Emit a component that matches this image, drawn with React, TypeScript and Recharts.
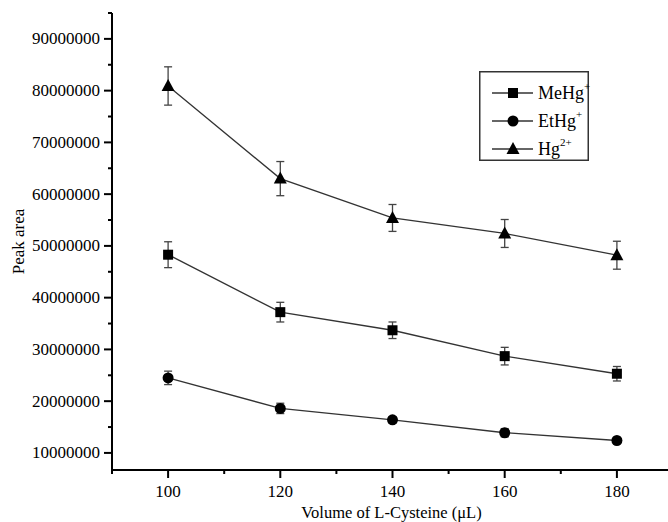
import React from "react";
import { ErrorBar, Legend, Line, LineChart, XAxis, YAxis } from "recharts";

const volumes = [100, 120, 140, 160, 180];
const meHg = [48300000, 37200000, 33700000, 28700000, 25300000];
const meHgErr = [2500000, 1900000, 1600000, 1700000, 1400000];
const etHg = [24500000, 18600000, 16400000, 13900000, 12400000];
const etHgErr = [1300000, 1000000, 600000, 800000, 500000];
const hg = [80900000, 63000000, 55400000, 52400000, 48200000];
const hgErr = [3700000, 3300000, 2600000, 2700000, 2700000];

const xTicks = [90, 100, 110, 120, 130, 140, 150, 160, 170, 180, 190];
const yTicks = [
  10000000, 15000000, 20000000, 25000000, 30000000, 35000000, 40000000, 45000000, 50000000,
  55000000, 60000000, 65000000, 70000000, 75000000, 80000000, 85000000, 90000000, 95000000,
];

const data = volumes.map((v, i) => ({
  volume: v,
  meHg: meHg[i],
  meHgErr: meHgErr[i],
  etHg: etHg[i],
  etHgErr: etHgErr[i],
  hg: hg[i],
  hgErr: hgErr[i],
}));

const FONT = "'Liberation Serif', 'Times New Roman', serif";

const YTick = ({ x, y, payload }: any) => {
  const major = payload.value % 10000000 === 0;
  return (
    <g>
      <line x1={x} x2={x - (major ? 8 : 4)} y1={y} y2={y} stroke="#000" strokeWidth={2} />
      {major && (
        <text x={x - 12} y={y + 5.5} textAnchor="end" fontSize={17} fontFamily={FONT} fill="#000">
          {payload.value}
        </text>
      )}
    </g>
  );
};

const XTick = ({ x, y, payload }: any) => {
  const major = payload.value % 20 === 0;
  return (
    <g>
      <line x1={x} x2={x} y1={y} y2={y + (major ? 8 : 4)} stroke="#000" strokeWidth={2} />
      {major && (
        <text x={x} y={y + 27} textAnchor="middle" fontSize={17} fontFamily={FONT} fill="#000">
          {payload.value}
        </text>
      )}
    </g>
  );
};

const Square = (props: any) => {
  const { cx, cy, index } = props;
  return <rect key={"s" + index} x={cx - 5} y={cy - 5} width={10} height={10} fill="#000" />;
};

const Circle = (props: any) => {
  const { cx, cy, index } = props;
  return <circle key={"c" + index} cx={cx} cy={cy} r={5.5} fill="#000" />;
};

const Triangle = (props: any) => {
  const { cx, cy, index } = props;
  return (
    <polygon
      key={"t" + index}
      points={`${cx},${cy - 7} ${cx - 6.5},${cy + 5} ${cx + 6.5},${cy + 5}`}
      fill="#000"
    />
  );
};

const LegendBox = () => {
  const rows = [
    { name: "MeHg", sup: "+", shape: "square" },
    { name: "EtHg", sup: "+", shape: "circle" },
    { name: "Hg", sup: "2+", shape: "triangle" },
  ];
  return (
    <svg width={120} height={90} style={{ display: "block", overflow: "visible" }}>
      <rect x={0.75} y={0.75} width={108.5} height={88.5} fill="#fff" stroke="#333" strokeWidth={1.5} />
      {rows.map((r, i) => {
        const cy = 22 + i * 28;
        return (
          <g key={r.name}>
            <line x1={13} x2={54} y1={cy} y2={cy} stroke="#333" strokeWidth={1.3} />
            {r.shape === "square" && <rect x={29} y={cy - 5} width={10} height={10} fill="#000" />}
            {r.shape === "circle" && <circle cx={34} cy={cy} r={5.5} fill="#000" />}
            {r.shape === "triangle" && (
              <polygon points={`34,${cy - 7} 27.5,${cy + 5} 40.5,${cy + 5}`} fill="#000" />
            )}
            <text x={59} y={cy + 6} fontSize={18} fontFamily={FONT} fill="#000">
              {r.name}
              <tspan fontSize={11} dy={-9}>
                {r.sup}
              </tspan>
            </text>
          </g>
        );
      })}
    </svg>
  );
};

const YLabel = ({ viewBox }: any) => {
  const cy = viewBox.y + viewBox.height / 2;
  return (
    <text
      x={20}
      y={cy}
      transform={`rotate(-90, 20, ${cy})`}
      textAnchor="middle"
      dominantBaseline="middle"
      fontSize={17}
      fontFamily={FONT}
      fill="#000"
    >
      Peak area
    </text>
  );
};

const XLabel = ({ viewBox }: any) => (
  <text
    x={viewBox.x + viewBox.width / 2 - 1}
    y={518}
    textAnchor="middle"
    fontSize={16.5}
    fontFamily={FONT}
    fill="#000"
  >
    Volume of L-Cysteine (μL)
  </text>
);

export default function App() {
  return (
    <div
      style={{
        position: "absolute",
        left: 0,
        top: 0,
        width: 668,
        height: 522,
        overflow: "hidden",
        background: "#fff",
      }}
    >
      <LineChart width={680} height={522} data={data} margin={{ top: 13, right: 7, bottom: 0, left: 0 }}>
        <XAxis
          dataKey="volume"
          type="number"
          domain={[90, 190]}
          ticks={xTicks}
          interval={0}
          height={52}
          tickSize={0}
          tickMargin={0}
          tick={<XTick />}
          axisLine={{ stroke: "#000", strokeWidth: 2 }}
          allowDataOverflow
          label={<XLabel />}
        />
        <YAxis
          type="number"
          domain={[6700000, 95000000]}
          ticks={yTicks}
          interval={0}
          width={112}
          tickSize={0}
          tickMargin={0}
          tick={<YTick />}
          axisLine={{ stroke: "#000", strokeWidth: 2 }}
          allowDataOverflow
          label={<YLabel />}
        />
        <Legend
          layout="vertical"
          align="center"
          verticalAlign="middle"
          content={<LegendBox />}
          wrapperStyle={{ left: 479, top: 71, width: 120, height: 90 }}
        />
        <Line
          dataKey="hg"
          name="Hg2+"
          stroke="#333"
          strokeWidth={1.3}
          dot={Triangle}
          activeDot={false}
          isAnimationActive={false}
        >
          <ErrorBar dataKey="hgErr" direction="y" width={4} stroke="#444" strokeWidth={1.3} isAnimationActive={false} />
        </Line>
        <Line
          dataKey="meHg"
          name="MeHg+"
          stroke="#333"
          strokeWidth={1.3}
          dot={Square}
          activeDot={false}
          isAnimationActive={false}
        >
          <ErrorBar dataKey="meHgErr" direction="y" width={4} stroke="#444" strokeWidth={1.3} isAnimationActive={false} />
        </Line>
        <Line
          dataKey="etHg"
          name="EtHg+"
          stroke="#333"
          strokeWidth={1.3}
          dot={Circle}
          activeDot={false}
          isAnimationActive={false}
        >
          <ErrorBar dataKey="etHgErr" direction="y" width={4} stroke="#444" strokeWidth={1.3} isAnimationActive={false} />
        </Line>
      </LineChart>
    </div>
  );
}
